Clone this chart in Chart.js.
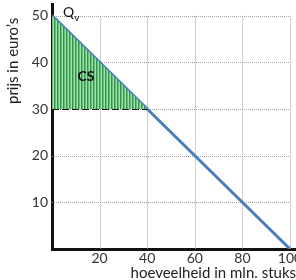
<!DOCTYPE html>
<html>
<head>
<meta charset="utf-8">
<script src="https://cdn.jsdelivr.net/npm/chart.js@4"></script>
<style>
  html, body { margin: 0; padding: 0; background: #fff; }
  #wrap { width: 296px; height: 280px; }
</style>
</head>
<body>
<div id="wrap"><canvas id="chart"></canvas></div>
<script>
// demand curve Qv (quantity in mln, price in euro)
const quantity = [0, 40, 100];
const price = [50, 30, 0];
// market equilibrium
const eqQuantity = 40;
const eqPrice = 30;
const xTicks = [20, 40, 60, 80, 100];
const yTicks = [10, 20, 30, 40, 50];

const FONT = "Lato, 'Open Sans', sans-serif";

// striped green pattern for the consumer surplus
function stripes() {
    const c = document.createElement("canvas");
    c.width = 3;
    c.height = 4;
    const g = c.getContext("2d");
    g.fillStyle = "#a8dcb2";
    g.fillRect(0, 0, 3, 4);
    g.fillStyle = "#2a9845";
    g.fillRect(0, 0, 1, 4);
    g.fillStyle = "#68bd7b";
    g.fillRect(1, 0, 1, 4);
    return g.createPattern(c, "repeat");
}

const demand = quantity.map((q, i) => ({ x: q, y: price[i] }));
const surplus = demand.filter(p => p.x <= eqQuantity);
const priceLine = [{ x: 0, y: eqPrice }, { x: eqQuantity, y: eqPrice }];

// dotted grid, only over the 0-100 x 0-50 area
const gridPlugin = {
    id: "dottedGrid",
    beforeDatasetsDraw(chart) {
        const ctx = chart.ctx;
        const xs = chart.scales.x;
        const ys = chart.scales.y;
        const x0 = xs.getPixelForValue(0);
        const x1 = xs.getPixelForValue(xTicks[xTicks.length - 1]);
        const y0 = ys.getPixelForValue(0);
        const y1 = ys.getPixelForValue(yTicks[yTicks.length - 1]);
        ctx.save();
        ctx.strokeStyle = "#a0a0a0";
        ctx.lineWidth = 1;
        ctx.setLineDash([1, 1]);
        ctx.beginPath();
        xTicks.forEach(v => {
            const px = Math.round(xs.getPixelForValue(v)) + 0.5;
            ctx.moveTo(px, y1);
            ctx.lineTo(px, y0);
        });
        yTicks.forEach(v => {
            const py = Math.round(ys.getPixelForValue(v)) + 0.5;
            ctx.moveTo(x0, py);
            ctx.lineTo(x1, py);
        });
        ctx.stroke();
        ctx.restore();
    }
};

const labelsPlugin = {
    id: "labels",
    afterDatasetsDraw(chart) {
        const ctx = chart.ctx;
        const xs = chart.scales.x;
        const ys = chart.scales.y;
        ctx.save();
        ctx.fillStyle = "#111";
        ctx.textBaseline = "middle";

        // CS
        ctx.font = "bold 14px " + FONT;
        ctx.textAlign = "center";
        ctx.fillText("CS", xs.getPixelForValue(14.3), ys.getPixelForValue(36.9));

        // Qv
        ctx.font = "14px " + FONT;
        ctx.textAlign = "left";
        const qx = xs.getPixelForValue(4.6);
        const qy = ys.getPixelForValue(50.6);
        ctx.fillText("Q", qx, qy);
        const w = ctx.measureText("Q").width;
        ctx.font = "10px " + FONT;
        ctx.fillText("v", qx + w, qy + 5);

        // y title
        ctx.font = "15px " + FONT;
        ctx.fillStyle = "#222";
        ctx.textAlign = "center";
        ctx.translate(13, ys.getPixelForValue(40.3));
        ctx.rotate(-Math.PI / 2);
        ctx.fillText("prijs in euro\u2019s", 0, 0);
        ctx.restore();
    }
};

new Chart(document.getElementById("chart"), {
    type: "scatter",
    data: {
        datasets: [
            {
                data: surplus,
                showLine: true,
                borderWidth: 0,
                borderColor: "rgba(0,0,0,0)",
                pointRadius: 0,
                backgroundColor: stripes(),
                fill: { value: eqPrice }
            },
            {
                data: priceLine,
                showLine: true,
                borderColor: "#111",
                borderWidth: 2,
                borderDash: [7, 3],
                pointRadius: 0,
                fill: false
            },
            {
                data: demand,
                showLine: true,
                borderColor: "#4a7ebb",
                borderWidth: 3,
                pointRadius: 0,
                fill: false
            }
        ]
    },
    options: {
        responsive: true,
        maintainAspectRatio: false,
        animation: false,
        layout: { padding: { left: 22, top: 4, right: 0, bottom: 0 } },
        plugins: {
            legend: { display: false },
            tooltip: { enabled: false }
        },
        scales: {
            x: {
                type: "linear",
                min: 0,
                max: 102.5,
                afterBuildTicks: s => { s.ticks = xTicks.map(v => ({ value: v })); },
                afterFit: s => {
                    s.height = 31;
                    s.paddingLeft = 0;
                    s.paddingRight = 0;
                },
                ticks: {
                    color: "#333",
                    font: { family: FONT, size: 14 },
                    padding: 1,
                    maxRotation: 0
                },
                grid: { display: false, drawTicks: false },
                border: { display: true, color: "#111", width: 3 },
                title: {
                    display: true,
                    text: "hoeveelheid in mln. stuks",
                    align: "end",
                    color: "#222",
                    font: { family: FONT, size: 15 },
                    padding: { top: 0, bottom: -2 }
                }
            },
            y: {
                type: "linear",
                min: 0,
                max: 52.5,
                afterBuildTicks: s => { s.ticks = yTicks.map(v => ({ value: v })); },
                afterFit: s => {
                    s.width = 30;
                    s.paddingTop = 0;
                    s.paddingBottom = 0;
                },
                ticks: {
                    color: "#333",
                    font: { family: FONT, size: 14 },
                    padding: 4
                },
                grid: { display: false, drawTicks: false },
                border: { display: true, color: "#111", width: 3 }
            }
        }
    },
    plugins: [gridPlugin, labelsPlugin]
});
</script>
</body>
</html>
